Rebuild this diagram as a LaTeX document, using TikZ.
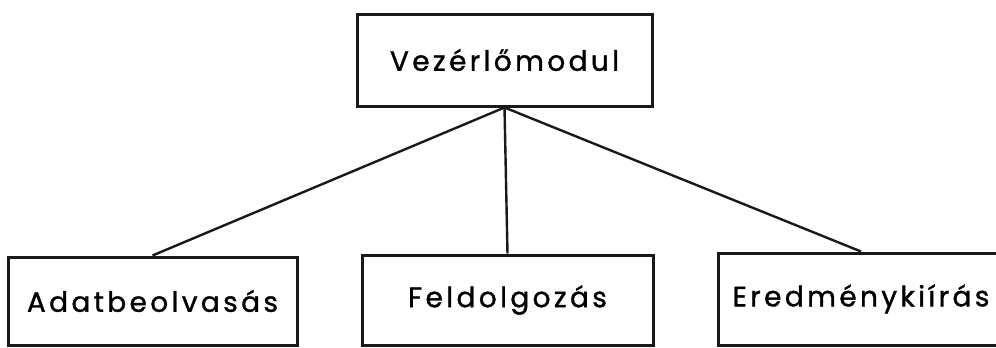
\documentclass[tikz,border=0pt]{standalone}
\usepackage{fontspec}
\setmainfont{Poppins}[LetterSpace=12,FakeBold=1.2]
\begin{document}
\begin{tikzpicture}[x=1pt,y=-1pt,
  box/.style={draw=black!90, line width=3pt, inner sep=0pt, font=\fontsize{28}{32}\selectfont},
  link/.style={draw=black!90, line width=2.4pt}]
\useasboundingbox (0,0) rectangle (996,348);
\node[box, minimum width=295pt, minimum height=92pt] (top) at (504.5,60) {Vezérlőmodul};
\node[box, minimum width=289pt, minimum height=88pt] (left) at (152.5,301) {Adatbeolvasás};
\node[box, minimum width=291pt, minimum height=90pt] (mid) at (507.5,300) {Feldolgozás};
\node[box, minimum width=286pt, minimum height=92pt] (right) at (861,299) {Eredménykiírás};
\draw[link] (top.south) -- (left.north);
\draw[link] (top.south) -- (mid.north);
\draw[link] (top.south) -- (right.north);
\end{tikzpicture}
\end{document}
